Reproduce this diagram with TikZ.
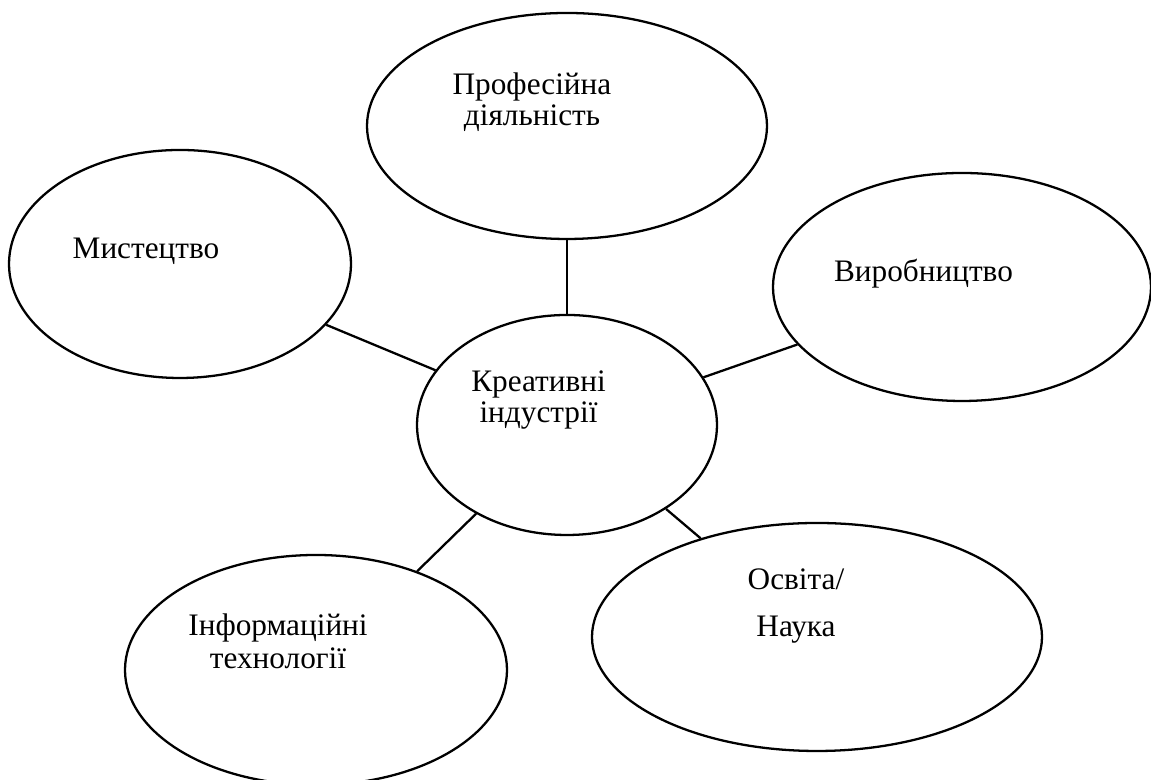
\documentclass[tikz,border=0pt]{standalone}
\usepackage{fontspec}
\setmainfont{Liberation Serif}
\usepackage{tikz}
\usetikzlibrary{positioning,shapes.geometric}

\begin{document}
\begin{tikzpicture}[line width=1.3pt,
                oval node/.style={ellipse,draw,inner sep=0pt},
                text node/.style={align=center,font=\fontsize{17.8pt}{17.6pt}\selectfont}]
\useasboundingbox (0,0) rectangle (23.02,15.6);
%Nodes
    \node[oval node, minimum width=8.0cm, minimum height=4.52cm] (P1) at (11.34,13.08) {};
    \node[oval node, minimum width=6.84cm, minimum height=4.56cm] (M1) at (3.60,10.32) {};
    \node[oval node, minimum width=7.56cm, minimum height=4.56cm] (V1) at (19.24,9.86) {};
    \node[oval node, minimum width=6.0cm, minimum height=4.4cm] (K1) at (11.34,7.10) {};
    \node[oval node, minimum width=7.64cm, minimum height=4.6cm] (I1) at (6.32,2.20) {};
    \node[oval node, minimum width=9.0cm, minimum height=4.56cm] (O1) at (16.34,2.86) {};

%Texts
    \node[text node] (P1L) at (10.64,13.56) {Професійна\\діяльність};
    \node[text node, anchor=base] (M1L) at (2.92,10.42) {Мистецтво};
    \node[text node, anchor=base] (V1L) at (18.47,9.96) {Виробництво};
    \node[text node] (K1L) at (10.77,7.59) {Креативні\\індустрії};
    \node[text node, font=\fontsize{17.8pt}{18.8pt}\selectfont] (I1L) at (5.56,2.78) {Інформаційні\\технології};
    \node[text node, font=\fontsize{17.8pt}{26.7pt}\selectfont] (O1L) at (15.92,3.48) {Освіта/\\Наука};

    \draw (K1) -- (P1);
    \draw (K1) -- (M1);
    \draw (K1) -- (V1);
    \draw (K1) -- (I1);
    \draw (K1) -- (O1);
\end{tikzpicture}
\end{document}
